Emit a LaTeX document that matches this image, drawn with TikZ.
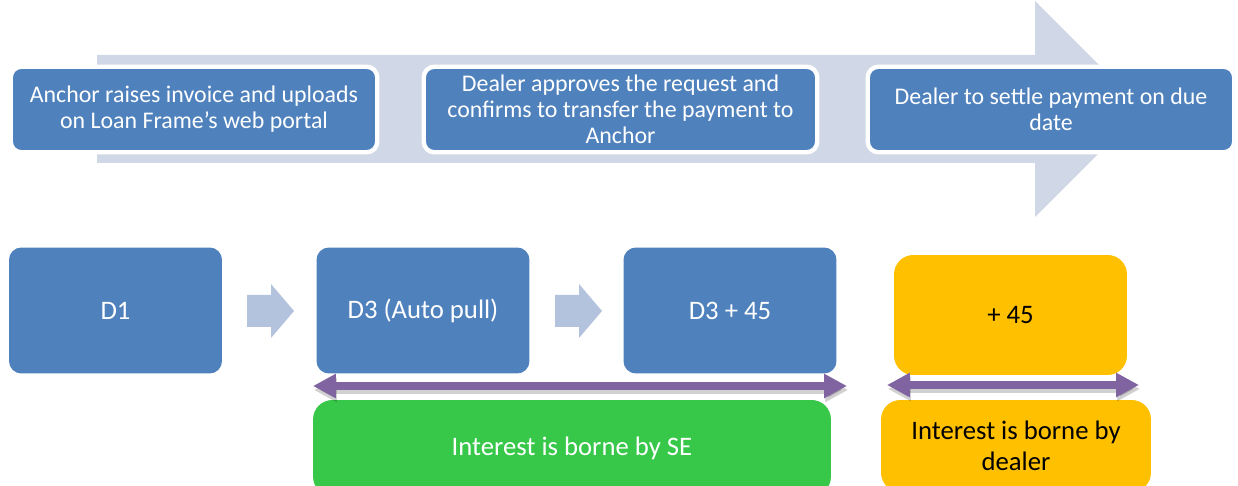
\documentclass[tikz,border=0pt]{standalone}
\usepackage{fontspec}
\setmainfont{Carlito}
\usetikzlibrary{arrows.meta}
\definecolor{boxblue}{HTML}{4F81BD}
\definecolor{flowgray}{HTML}{D0D7E6}
\definecolor{chevgray}{HTML}{B3C2DD}
\definecolor{spanpurple}{HTML}{8064A2}
\definecolor{segreen}{HTML}{37C84A}
\definecolor{dealeryellow}{HTML}{FFC000}

\begin{document}
\begin{tikzpicture}[x=0.02cm, y=-0.02cm,
		topbox/.style = {draw=white, line width=2.5pt, fill=boxblue, rounded corners=6pt, text=white, align=center, minimum height=1.71cm, inner sep=1pt, font=\fontsize{13.6}{14.8}\selectfont},
		daybox/.style = {fill=boxblue, rounded corners=7pt, text=white, minimum width=4.26cm, minimum height=2.52cm, font=\fontsize{15.2}{17.5}\selectfont},
		yellowbox/.style = {fill=dealeryellow, rounded corners=11pt, text=black, align=center, font=\fontsize{15.2}{17.5}\selectfont},
		span/.style = {{Triangle[length=13pt,width=13pt]}-{Triangle[length=13pt,width=13pt]}, line width=4.5pt, draw=spanpurple},
		spanshadow/.style = {span, draw=black, opacity=0.18}]

		\clip (0,0) rectangle (1238,486);

		% process arrow and steps
		\fill[flowgray] (97,55) -- (1035,55) -- (1035,1) -- (1143,109) -- (1035,217) -- (1035,163) -- (97,163) -- cycle;

		\node[topbox, minimum width=7.33cm] (upload) at (194,109.5) {Anchor raises invoice and uploads\\on Loan Frame’s web portal};
		\node[topbox, minimum width=7.87cm] (approve) at (620.5,109.5) {Dealer approves the request and\\confirms to transfer the payment to\\Anchor};
		\node[topbox, minimum width=7.33cm] (settle) at (1051,109.5) {Dealer to settle payment on due\\date};

		% days
		\node[daybox] (d1) at (115.5,310.5) {D1};
		\node[daybox] (d3) at (423,310.5) {D3 (Auto pull)};
		\node[daybox] (d45) at (730,310.5) {D3 + 45};
		\node[yellowbox, minimum width=4.66cm, minimum height=2.4cm] (plus) at (1010.5,315) {+ 45};

		\foreach \cx in {247,555}
			\fill[chevgray] (\cx,295) -- ++(24,0) -- ++(0,-11) -- ++(23,27) -- ++(-23,27) -- ++(0,-11) -- ++(-24,0) -- cycle;

		% interest periods
		\node[fill=segreen, rounded corners=11pt, text=white, minimum width=10.36cm, minimum height=1.92cm, font=\fontsize{15.2}{17.5}\selectfont] (se) at (572,448) {Interest is borne by SE};
		\node[yellowbox, minimum width=5.4cm, minimum height=1.84cm] (dealer) at (1016,446) {Interest is borne by\\dealer};

		\coordinate (sa) at (313,386);
		\coordinate (sb) at (847,386);
		\coordinate (da) at (887,385);
		\coordinate (db) at (1139,385);

		\draw[spanshadow] ([shift={(1,4)}]sa) -- ([shift={(1,4)}]sb);
		\draw[spanshadow] ([shift={(1,4)}]da) -- ([shift={(1,4)}]db);
		\draw[span] (sa) -- (sb);
		\draw[span] (da) -- (db);
	\end{tikzpicture}
\end{document}
